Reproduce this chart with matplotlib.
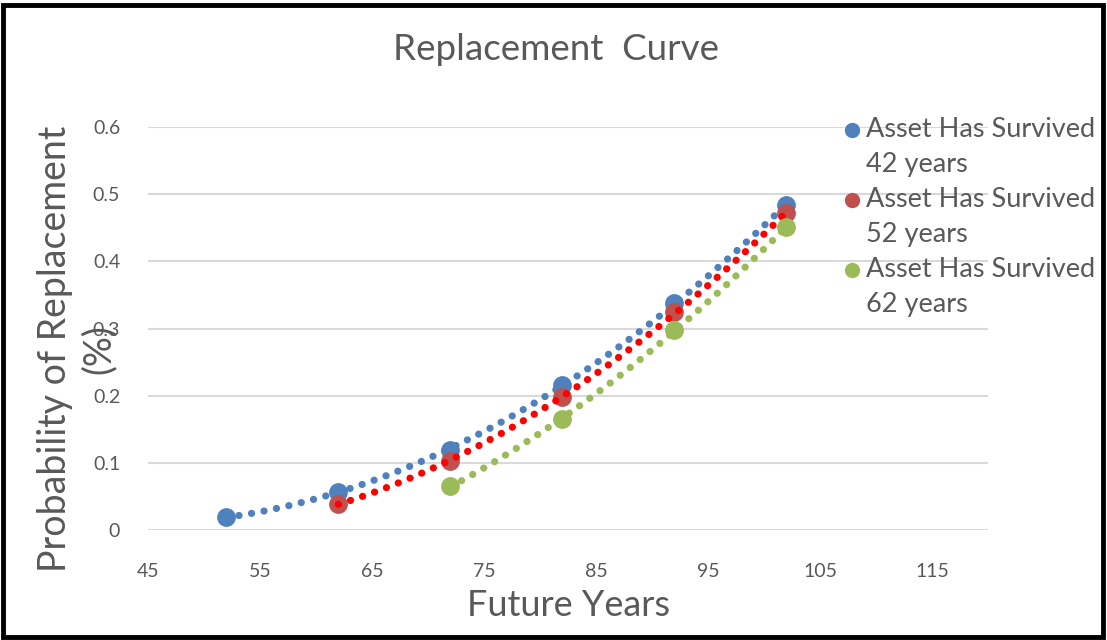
import matplotlib
matplotlib.use('Agg')
import matplotlib.pyplot as plt
from matplotlib.lines import Line2D
from matplotlib.patches import Rectangle
import numpy as np

# data
years_42 = [52, 62, 72, 82, 92, 102]
prob_42 = [0.019, 0.057, 0.119, 0.216, 0.338, 0.484]
years_52 = [62, 72, 82, 92, 102]
prob_52 = [0.039, 0.103, 0.198, 0.324, 0.472]
years_62 = [72, 82, 92, 102]
prob_62 = [0.065, 0.165, 0.298, 0.451]

labels = ['Asset Has Survived\n42 years', 'Asset Has Survived\n52 years', 'Asset Has Survived\n62 years']
marker_colors = ['#4F81BD', '#C0504D', '#9BBB59']
trend_colors = ['#4F81BD', '#FF0000', '#9BBB59']
x_ticks = [45, 55, 65, 75, 85, 95, 105, 115]
y_ticks = [0, 0.1, 0.2, 0.3, 0.4, 0.5, 0.6]

GRAY = '#595959'
plt.rcParams['font.family'] = ['Lato', 'DejaVu Sans']

W, H = 1107, 640
fig = plt.figure(figsize=(W / 100, H / 100), dpi=100)
ax = fig.add_axes([148 / W, 1 - 530 / H, 840 / W, 403 / H])

series = [(years_42, prob_42), (years_52, prob_52), (years_62, prob_62)]
for i, (xs, ys) in enumerate(series):
    ax.plot(xs, ys, 'o', color=marker_colors[i], markersize=12.5, zorder=3 + i * 2, clip_on=False)
    # polynomial trendline (order 2) like the spreadsheet one
    coef = np.polyfit(xs, ys, 2)
    xx = np.linspace(xs[0], xs[-1], 300)
    ax.plot(xx, np.polyval(coef, xx), color=trend_colors[i], linewidth=5.2,
            linestyle=(0, (0.01, 1.75)), dash_capstyle='round', zorder=4 + i * 2)

ax.set_xlim(45, 120)
ax.set_ylim(0, 0.6)
ax.set_xticks(x_ticks)
ax.set_yticks(y_ticks)
ax.set_yticklabels(['0', '0.1', '0.2', '0.3', '0.4', '0.5', '0.6'])
ax.grid(axis='y', color='#D9D9D9', linewidth=1.5)
ax.set_axisbelow(True)
for s in ax.spines.values():
    s.set_visible(False)
ax.tick_params(length=0, labelsize=14, colors=GRAY)
ax.tick_params(axis='x', pad=24)
ax.tick_params(axis='y', pad=20)

fig.text(556 / W, 1 - 50 / H, 'Replacement  Curve', ha='center', va='center', fontsize=26.5, color=GRAY)
fig.text(568 / W, 1 - 606 / H, 'Future Years', ha='center', va='center', fontsize=26, color=GRAY)
fig.text(77 / W, 1 - 349 / H, 'Probability of Replacement\n(%)', ha='center', va='center',
         rotation=90, fontsize=27, color=GRAY, multialignment='center', linespacing=1.25)

# legend, drawn by hand so the marker sits on the first text line
for i, lab in enumerate(labels):
    y0 = 130 + i * 70
    fig.add_artist(Line2D([852 / W], [1 - y0 / H], transform=fig.transFigure, marker='o',
                          markersize=10, color=marker_colors[i], linestyle='none'))
    fig.text(866 / W, 1 - (y0 - 13) / H, lab, ha='left', va='top', fontsize=19.5, color=GRAY,
             linespacing=1.5)

fig.add_artist(Rectangle((3 / W, 3 / H), 1 - 7 / W, 1 - 8 / H, transform=fig.transFigure,
                         fill=False, edgecolor='black', linewidth=3.5))

fig.savefig('out.png', dpi=100)
